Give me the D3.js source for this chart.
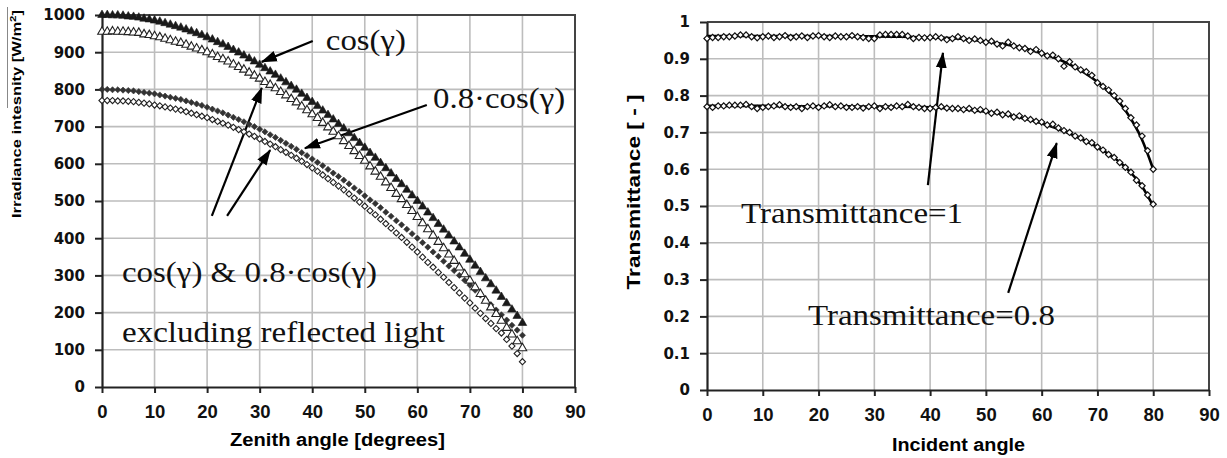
<!DOCTYPE html>
<html>
<head>
<meta charset="utf-8">
<script src="https://cdn.jsdelivr.net/npm/d3@7"></script>
<style>
  body { margin: 0; background: #fff; }
  svg { display: block; }
</style>
</head>
<body>
<svg width="1227" height="458"></svg>
<script>
// ---- data ----
const angles = [0,1,2,3,4,5,6,7,8,9,10,11,12,13,14,15,16,17,18,19,20,21,22,23,24,25,26,27,28,29,
  30,31,32,33,34,35,36,37,38,39,40,41,42,43,44,45,46,47,48,49,50,51,52,53,54,55,56,57,58,59,
  60,61,62,63,64,65,66,67,68,69,70,71,72,73,74,75,76,77,78,79,80];
const angleTicks = [0,10,20,30,40,50,60,70,80,90];
const irrTicks = [0,100,200,300,400,500,600,700,800,900,1000];
const transTicks = [0,0.1,0.2,0.3,0.4,0.5,0.6,0.7,0.8,0.9,1];

// left chart: irradiance [W/m2]
const cosFull = [1000,1000,999,999,998,996,995,993,990,988,
  985,982,978,974,970,966,961,956,951,946,
  940,934,927,921,914,906,899,891,883,875,
  866,857,848,839,829,819,809,799,788,777,
  766,755,743,731,719,707,695,682,669,656,
  643,629,616,602,588,574,559,545,530,515,
  500,485,469,454,438,423,407,391,375,358,
  342,326,309,292,276,259,242,225,208,191,
  172];
const cosReduced = [800,800,799,799,798,797,796,794,792,790,
  788,785,782,779,776,773,769,765,761,757,
  752,747,742,737,731,725,719,713,706,700,
  693,686,678,671,663,655,647,639,630,622,
  613,604,595,585,575,566,556,546,535,525,
  514,503,493,482,470,459,447,436,424,412,
  400,388,376,363,351,338,325,313,300,287,
  274,260,247,234,221,207,194,180,166,153,
  139];
const cosExclRefl = [955,955,956,955,955,954,953,952,948,946,
  943,940,936,932,928,925,920,915,910,905,
  900,894,887,881,875,867,860,853,845,837,
  829,820,812,803,793,784,774,765,754,744,
  733,723,710,698,686,674,661,648,634,621,
  608,593,579,565,550,535,519,505,489,473,
  457,440,424,407,390,373,356,339,321,303,
  286,268,250,232,214,196,178,159,141,123,
  104];
const reducedExclRefl = [770,770,770,769,769,768,767,765,763,761,
  758,756,753,750,747,744,740,736,732,728,
  724,719,714,709,704,698,692,686,680,674,
  667,660,653,646,638,631,623,615,607,598,
  589,580,570,560,550,540,530,519,508,497,
  486,474,463,451,439,427,414,402,389,376,
  363,349,335,322,308,295,281,267,253,239,
  226,212,198,184,171,157,145,128,110,90,
  68];

// right chart: transmittance [-]
const trans1 = [.955,.958,.958,.96,.96,.962,.965,.965,.96,.957,
  .96,.962,.958,.96,.963,.958,.96,.962,.958,.962,
  .963,.96,.958,.962,.96,.96,.963,.96,.958,.955,
  .955,.965,.966,.966,.966,.966,.962,.955,.958,.957,
  .958,.96,.957,.952,.955,.96,.955,.95,.954,.95,
  .945,.948,.94,.935,.945,.935,.93,.928,.92,.925,
  .915,.908,.91,.9,.88,.892,.878,.87,.865,.855,
  .835,.825,.815,.8,.785,.765,.74,.72,.69,.65,
  .6];
const trans08 = [.77,.768,.772,.772,.774,.774,.774,.776,.77,.765,
  .768,.77,.772,.775,.77,.768,.77,.765,.77,.772,
  .768,.772,.775,.77,.772,.768,.768,.77,.766,.77,
  .772,.765,.77,.768,.772,.77,.776,.77,.768,.765,
  .765,.768,.77,.766,.765,.765,.762,.765,.76,.762,
  .758,.752,.755,.748,.75,.742,.745,.738,.735,.73,
  .728,.72,.722,.712,.705,.7,.69,.685,.675,.672,
  .66,.652,.64,.632,.618,.605,.592,.57,.555,.53,
  .505];
const fitAngles = [0,5,10,15,20,25,30,35,40,45,50,55,60,65,70,75,78,80];
const trans1Fit = [.962,.962,.962,.962,.962,.961,.961,.96,.958,.955,.947,.935,.915,.885,.837,.76,.68,.6];
const trans08Fit = [.772,.772,.772,.771,.771,.771,.77,.77,.768,.764,.756,.744,.725,.697,.66,.606,.553,.5];

const svg = d3.select("svg");

const SERIF = "'Liberation Serif','Times New Roman',serif";
const SANS = "'Liberation Sans',Arial,sans-serif";

// arrowhead
svg.append("defs").append("marker")
  .attr("id", "head")
  .attr("markerUnits", "userSpaceOnUse")
  .attr("viewBox", "0 -6 16 12")
  .attr("markerWidth", 16).attr("markerHeight", 12)
  .attr("refX", 15).attr("refY", 0)
  .attr("orient", "auto")
  .append("path").attr("d", "M0,-5.5L16,0L0,5.5Z").attr("fill", "#000");

function panel(opt) {
  const x = d3.scaleLinear().domain([0, 90]).range(opt.xr);
  const y = d3.scaleLinear().domain(opt.yd).range(opt.yr);
  const g = svg.append("g");

  // grid
  g.append("g").selectAll("line").data(angleTicks.slice(1)).join("line")
    .attr("x1", d => x(d)).attr("x2", d => x(d))
    .attr("y1", opt.yr[0]).attr("y2", opt.yr[1])
    .attr("stroke", "#bdbdbd").attr("stroke-width", 1.6);
  g.append("g").selectAll("line").data(opt.yTicks.slice(1)).join("line")
    .attr("x1", opt.xr[0]).attr("x2", opt.xr[1])
    .attr("y1", d => y(d)).attr("y2", d => y(d))
    .attr("stroke", "#bdbdbd").attr("stroke-width", 1.6);

  // frame top/right
  g.append("path")
    .attr("d", `M${opt.xr[0]},${opt.yr[1]}H${opt.xr[1]}V${opt.yr[0]}`)
    .attr("fill", "none").attr("stroke", "#444").attr("stroke-width", 2);

  // axes
  const ax = g.append("g").attr("transform", `translate(0,${opt.yr[0]})`)
    .call(d3.axisBottom(x).tickValues(angleTicks).tickSize(6).tickSizeOuter(0));
  ax.selectAll("text").attr("dy", null).attr("y", 31)
    .attr("font-family", SANS).attr("font-weight", "bold").attr("font-size", 18.5).attr("fill", "#111");
  const ay = g.append("g").attr("transform", `translate(${opt.xr[0]},0)`)
    .call(d3.axisLeft(y).tickValues(opt.yTicks).tickFormat(opt.fmt).tickSize(7).tickPadding(10).tickSizeOuter(0));
  ay.selectAll("text")
    .attr("font-family", "'DejaVu Sans',sans-serif").attr("font-weight", "bold").attr("font-size", 15).attr("fill", "#111");
  [ax, ay].forEach(a => {
    a.select(".domain").attr("stroke", "#222").attr("stroke-width", 2.2);
    a.selectAll(".tick line").attr("stroke", "#222").attr("stroke-width", 2);
  });

  // axis titles
  g.append("text")
    .attr("x", opt.xTitle[0]).attr("y", opt.xTitle[1])
    .attr("textLength", opt.xTitle[2]).attr("lengthAdjust", "spacingAndGlyphs")
    .attr("font-family", SANS).attr("font-weight", "bold").attr("font-size", 18)
    .text(opt.xTitleText);
  const yt = g.append("text")
    .attr("transform", `translate(${opt.yTitle[0]},${opt.yTitle[1]}) rotate(-90)`)
    .attr("text-anchor", "middle")
    .attr("textLength", opt.yTitle[2]).attr("lengthAdjust", "spacingAndGlyphs")
    .attr("font-family", SANS).attr("font-weight", "bold").attr("font-size", opt.yTitle[3]);
  opt.yTitleParts.forEach(p => {
    const t = yt.append("tspan").text(p.t);
    if (p.sup) t.attr("baseline-shift", "super").attr("font-size", opt.yTitle[3] * 0.7);
  });

  // notes + arrows
  opt.notes.forEach(n => {
    g.append("text")
      .attr("x", x(n.x)).attr("y", y(n.y))
      .attr("textLength", n.w).attr("lengthAdjust", "spacingAndGlyphs")
      .attr("font-family", SERIF).attr("font-size", 29).attr("fill", "#111")
      .text(n.text);
  });
  opt.arrows.forEach(a => {
    g.append("line")
      .attr("x1", x(a.from[0])).attr("y1", y(a.from[1]))
      .attr("x2", x(a.to[0])).attr("y2", y(a.to[1]))
      .attr("stroke", "#000").attr("stroke-width", 2.2)
      .attr("marker-end", "url(#head)");
  });

  return { g, x, y };
}

const diamond = d3.symbol(d3.symbolSquare, 19)();
const tri = d3.symbol(d3.symbolTriangle, 32)();

function markers(p, vals, shape, fill, stroke, sw) {
  p.g.append("g").selectAll("path").data(angles).join("path")
    .attr("d", shape)
    .attr("transform", (d, i) => `translate(${p.x(d)},${p.y(vals[i])})` + (shape === diamond ? " rotate(45)" : ""))
    .attr("fill", fill).attr("stroke", stroke).attr("stroke-width", sw);
}

// ---- left chart ----
const left = panel({
  xr: [102, 575], yd: [0, 1000], yr: [387, 15], yTicks: irrTicks, fmt: d => d,
  xTitle: [230, 446, 215], xTitleText: "Zenith angle [degrees]",
  yTitle: [21, 114, 208, 13],
  yTitleParts: [{ t: "Irradiance intesnity [W/m" }, { t: "2", sup: true }, { t: "]" }],
  notes: [
    { text: "cos(\u03b3)", x: 42.6, y: 906, w: 80 },
    { text: "0.8\u00b7cos(\u03b3)", x: 63.0, y: 750, w: 132 },
    { text: "cos(\u03b3) & 0.8\u00b7cos(\u03b3)", x: 3.8, y: 282, w: 255 },
    { text: "excluding reflected light", x: 3.8, y: 121, w: 323 }
  ],
  arrows: [
    { from: [40.1, 930], to: [30.4, 874] },
    { from: [61.8, 758], to: [38.6, 642] },
    { from: [20.9, 460], to: [30.4, 804] },
    { from: [23.8, 460], to: [32.0, 637] }
  ]
});
markers(left, reducedExclRefl, diamond, "#fff", "#222", 1.1);
markers(left, cosReduced, diamond, "#333", "#333", 0.6);
markers(left, cosExclRefl, tri, "#fff", "#222", 1.1);
markers(left, cosFull, tri, "#1a1a1a", "#1a1a1a", 0.6);

// stray rule left of the y title
svg.append("line").attr("x1", 7.5).attr("x2", 7.5).attr("y1", 7).attr("y2", 108)
  .attr("stroke", "#888").attr("stroke-width", 1);

// ---- right chart ----
const right = panel({
  xr: [707, 1209], yd: [0, 1], yr: [390, 22], yTicks: transTicks, fmt: d => String(d),
  xTitle: [892, 451, 133], xTitleText: "Incident angle",
  yTitle: [640, 192, 195, 18],
  yTitleParts: [{ t: "Transmittance [ - ]" }],
  notes: [
    { text: "Transmittance=1", x: 6.1, y: 0.454, w: 222 },
    { text: "Transmittance=0.8", x: 18.1, y: 0.177, w: 247 }
  ],
  arrows: [
    { from: [39.6, 0.557], to: [42.3, 0.916] },
    { from: [54.0, 0.264], to: [62.7, 0.671] }
  ]
});
const fitLine = d3.line().x((d, i) => right.x(fitAngles[i])).y(d => right.y(d)).curve(d3.curveMonotoneX);
[trans1Fit, trans08Fit].forEach(s => {
  right.g.append("path").attr("d", fitLine(s))
    .attr("fill", "none").attr("stroke", "#000").attr("stroke-width", 2.6);
});
markers(right, trans1, diamond, "#fff", "#111", 1.2);
markers(right, trans08, diamond, "#fff", "#111", 1.2);
</script>
</body>
</html>
